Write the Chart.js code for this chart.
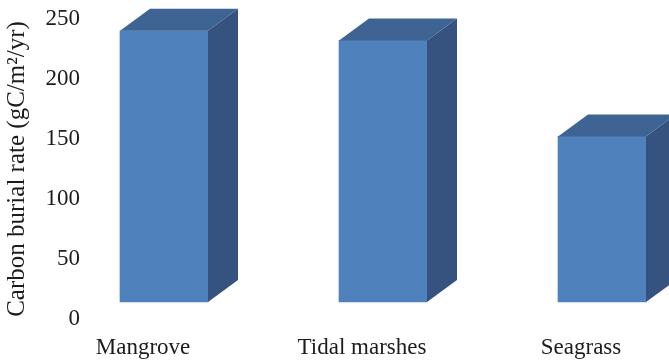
<!DOCTYPE html>
<html>
<head>
<meta charset="utf-8">
<script src="https://cdn.jsdelivr.net/npm/chart.js@4/dist/chart.umd.min.js"></script>
<style>
  html, body { margin: 0; padding: 0; background: #ffffff; }
  #wrap { width: 669px; height: 361px; }
</style>
</head>
<body>
<div id="wrap"><canvas id="c" width="669" height="361"></canvas></div>
<script>
// Carbon burial rates by coastal ecosystem
const categories = ['Mangrove', 'Tidal marshes', 'Seagrass'];
const burialRates = [226, 218, 138];          // gC/m²/yr
const yTicks = [0, 50, 100, 150, 200, 250];
const yTitle = 'Carbon burial rate (gC/m\u00B2/yr)';

// Look of the extruded columns
const FRONT = '#4F81BD';
const TOP = '#3E6494';
const SIDE = '#35537E';
const DEPTH_X = 30;       // px, oblique depth to the right
const DEPTH_Y = 22;       // px, oblique depth upwards
const FLOOR_LIFT = 14.17; // value units: the floor sits a little above the 0 label
const SERIF = '"Liberation Serif", "Times New Roman", serif';
const INK = '#1c1c1c';

const points = burialRates.map((v, i) => ({ x: i, y: v }));

// Draw the top and side faces of each column from the bar element geometry
const extrude = {
  id: 'extrude',
  afterDatasetsDraw(chart) {
    const ctx = chart.ctx;
    const meta = chart.getDatasetMeta(0);
    ctx.save();
    meta.data.forEach(bar => {
      const { x, y, base, width } = bar.getProps(['x', 'y', 'base', 'width'], true);
      const l = x - width / 2, r = x + width / 2;
      // top face
      ctx.fillStyle = TOP;
      ctx.beginPath();
      ctx.moveTo(l, y);
      ctx.lineTo(l + DEPTH_X, y - DEPTH_Y);
      ctx.lineTo(r + DEPTH_X, y - DEPTH_Y);
      ctx.lineTo(r, y);
      ctx.closePath();
      ctx.fill();
      // side face
      ctx.fillStyle = SIDE;
      ctx.beginPath();
      ctx.moveTo(r, y);
      ctx.lineTo(r + DEPTH_X, y - DEPTH_Y);
      ctx.lineTo(r + DEPTH_X, base - DEPTH_Y);
      ctx.lineTo(r, base);
      ctx.closePath();
      ctx.fill();
    });
    ctx.restore();
  }
};

new Chart(document.getElementById('c'), {
  type: 'bar',
  data: {
    datasets: [{
      data: points,
      backgroundColor: FRONT,
      borderWidth: 0,
      barThickness: 88,
      xAxisID: 'x',
      yAxisID: 'yb',
      clip: false
    }]
  },
  options: {
    responsive: false,
    devicePixelRatio: 1,
    animation: false,
    events: [],
    layout: { padding: { top: 19, left: 5, right: 0, bottom: 0 } },
    plugins: { legend: { display: false }, tooltip: { enabled: false } },
    scales: {
      x: {
        type: 'linear',
        position: 'bottom',
        offset: false,
        min: -0.3379,
        max: 2.3059,
        grid: { display: false, drawTicks: false, offset: false },
        border: { display: false },
        afterFit: s => { s.height = 42; },
        afterBuildTicks: s => { s.ticks = categories.map((_, i) => ({ value: i })); },
        ticks: {
          includeBounds: false,
          labelOffset: -21,
          padding: 15,
          color: INK,
          font: { family: SERIF, size: 23 },
          callback: v => categories[v]
        }
      },
      y: {
        position: 'left',
        min: 0,
        max: 250,
        grid: { display: false, drawTicks: false },
        border: { display: false },
        afterFit: s => { s.width = 85; },
        afterBuildTicks: s => { s.ticks = yTicks.map(v => ({ value: v })); },
        ticks: {
          padding: 10,
          color: INK,
          font: { family: SERIF, size: 23, lineHeight: 0.7 }
        },
        title: {
          display: true,
          text: yTitle,
          color: INK,
          padding: 0,
          font: { family: SERIF, size: 25, lineHeight: 1 }
        }
      },
      yb: {
        display: false,
        min: -FLOOR_LIFT,
        max: 250 - FLOOR_LIFT
      }
    }
  },
  plugins: [extrude]
});
</script>
</body>
</html>
